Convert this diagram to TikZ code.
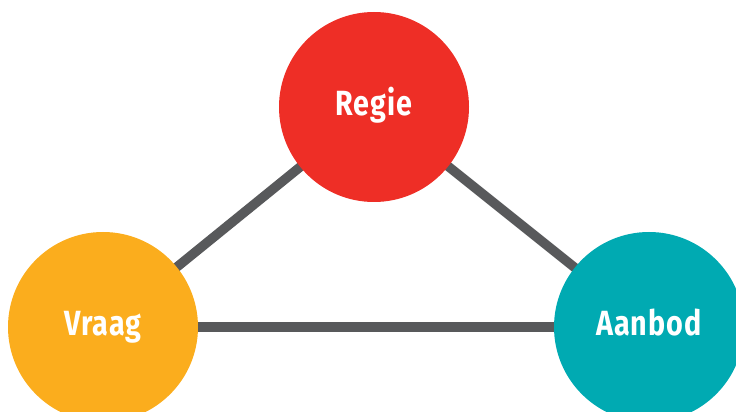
\documentclass[tikz,border=0pt]{standalone}
\usepackage{fontspec}
\setmainfont[FakeStretch=0.82,LetterSpace=3]{Fira Sans}
\usepackage{tikz}
\usetikzlibrary{positioning,backgrounds}
\definecolor{regiered}{HTML}{EE2E26}
\definecolor{vraagorange}{HTML}{FBAD1D}
\definecolor{aanbodteal}{HTML}{00AAB2}
\definecolor{linkgray}{HTML}{58595B}
\tikzset{%
	party/.style={
		circle,
		draw=none,
		inner sep=0pt,
		minimum size=190pt,
		text=white,
		text height=24pt,
		text depth=0pt,
		font=\fontsize{35}{40}\selectfont\bfseries
	},
	party-label/.style={ yshift=3pt },
	party-regie/.style={ fill=regiered },
	party-vraag/.style={ fill=vraagorange },
	party-aanbod/.style={ fill=aanbodteal },
	link/.style={ draw=linkgray, line width=9.5pt }
}

\begin{document}
\begin{tikzpicture}[x=1pt, y=1pt]
\clip (0,0) rectangle (736,412);
\useasboundingbox (0,0) rectangle (736,412);
% parties
\node[party, party-regie] (regie) at (374,305) {};
\node[party, party-vraag] (vraag) at (103,85) {};
\node[party, party-aanbod] (aanbod) at (649,85) {};

% party labels
\foreach \p/\l in {regie/Regie, vraag/Vraag, aanbod/Aanbod}
	\node[party, party-label, fill=none, minimum size=0pt] (\p-label) at (\p) {\l};

% links
\begin{scope}[on background layer]
\foreach \a/\b in {regie/vraag, regie/aanbod, vraag/aanbod}
	\draw[link] (\a.center) -- (\b.center);
\end{scope}

\end{tikzpicture}
\end{document}
